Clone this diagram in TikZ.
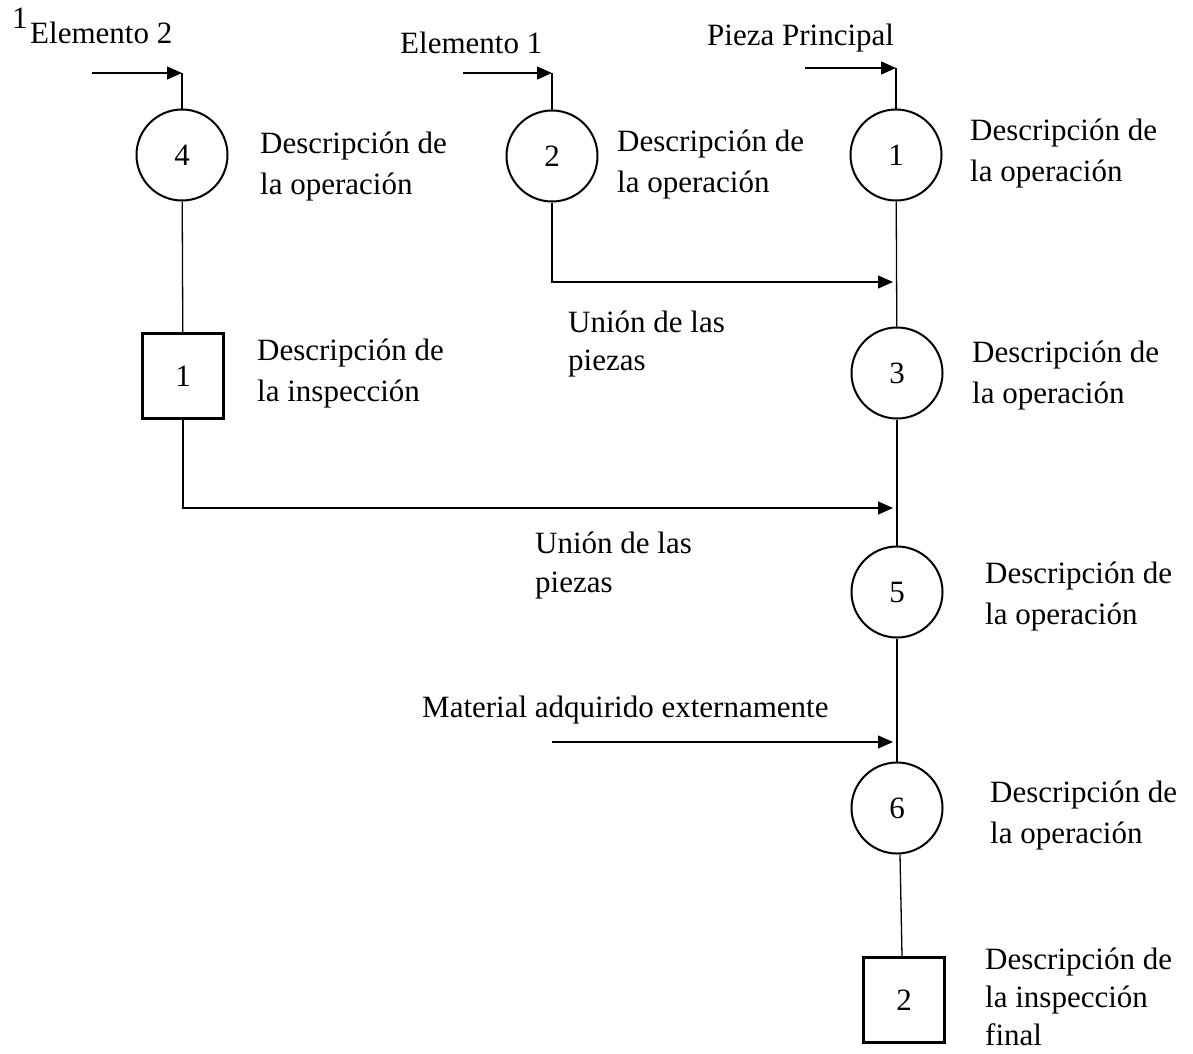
\documentclass[tikz,border=0pt]{standalone}
\usepackage{fontspec}
\setmainfont{Liberation Serif}
\usetikzlibrary{arrows.meta}
% left-aligned block of lines whose baseline is that of its first line
\newcommand\txtlines[1]{\begin{tabular}[t]{@{}l@{}}#1\end{tabular}}
\begin{document}
\begin{tikzpicture}[x=1pt,y=-1pt,
  lbl/.style={anchor=base west, inner sep=0pt, font=\fontsize{31}{41}\selectfont},
  op/.style={circle, draw, line width=2pt, minimum size=91pt, inner sep=0pt,
             font=\fontsize{31}{41}\selectfont},
  insp/.style={rectangle, draw, line width=2.6pt, minimum width=81pt,
               minimum height=85pt, inner sep=0pt, font=\fontsize{31}{41}\selectfont},
  link/.style={line width=1.3pt},
  feed/.style={link, -{Triangle[length=15pt,width=13pt]}}]

\useasboundingbox (0,0) rectangle (1193,1053);
\fill[white] (0,0) rectangle (1193,1053);

% operations and inspections
\node[op] (c4) at (182,155) {4};
\node[op] (c2) at (552,156) {2};
\node[op] (c1) at (896,155) {1};
\node[op] (c3) at (897,373) {3};
\node[op] (c5) at (897,592) {5};
\node[op] (c6) at (897,808) {6};
\node[insp] (s1) at (183,376) {1};
\node[insp] (s2) at (904,1000) {2};

% incoming materials
\node[lbl] (n1) at (12,28) {1};
\node[lbl] (e2) at (30,43) {Elemento 2};
\node[lbl] (e1) at (400,53) {Elemento 1};
\node[lbl] (pp) at (707,45) {Pieza Principal};
\node[lbl] (mat) at (422,717) {Material adquirido externamente};

% descriptions
\node[lbl] (d4) at (260,153) {\txtlines{Descripción de\\la operación}};
\node[lbl] (d2) at (617,151) {\txtlines{Descripción de\\la operación}};
\node[lbl] (d1) at (970,140) {\txtlines{Descripción de\\la operación}};
\node[lbl] (d3) at (972,362) {\txtlines{Descripción de\\la operación}};
\node[lbl] (di1) at (257,360) {\txtlines{Descripción de\\la inspección}};
\node[lbl] (d5) at (985,583) {\txtlines{Descripción de\\la operación}};
\node[lbl] (d6) at (990,802) {\txtlines{Descripción de\\la operación}};
\node[lbl, font=\fontsize{31}{38}\selectfont] (di2) at (985,969)
  {\txtlines{Descripción de\\la inspección\\final}};
\node[lbl, font=\fontsize{31}{38}\selectfont] (u1) at (568,332) {\txtlines{Unión de las\\piezas}};
\node[lbl, font=\fontsize{31}{39}\selectfont] (u2) at (535,553) {\txtlines{Unión de las\\piezas}};

% feed points
\coordinate (a4) at (92,73);   \coordinate (b4) at (182,73);
\coordinate (a2) at (463,73);  \coordinate (b2) at (552,73);
\coordinate (a1) at (805,68);  \coordinate (b1) at (896,68);
\coordinate (j1) at (893,282);
\coordinate (j2) at (893,508);
\coordinate (am) at (552,742); \coordinate (jm) at (893,742);

\draw[feed] (a4) -- (b4);
\draw[link] (b4) -- (c4.north);
\draw[feed] (a2) -- (b2);
\draw[link] (b2) -- (c2.north);
\draw[feed] (a1) -- (b1);
\draw[link] (b1) -- (c1.north);

% flow lines
\draw[link] (c4) -- (s1);
\draw[feed] (s1.south) |- (j2);
\draw[feed] (c2.south) |- (j1);
\draw[link] (c1) -- (c3);
\draw[link] (c3) -- (c5);
\draw[link] (c5) -- (c6);
\draw[feed] (am) -- (jm);
\draw[link] (c6.south) ++(3,0) -- ([xshift=-2pt]s2.north);
\end{tikzpicture}
\end{document}
